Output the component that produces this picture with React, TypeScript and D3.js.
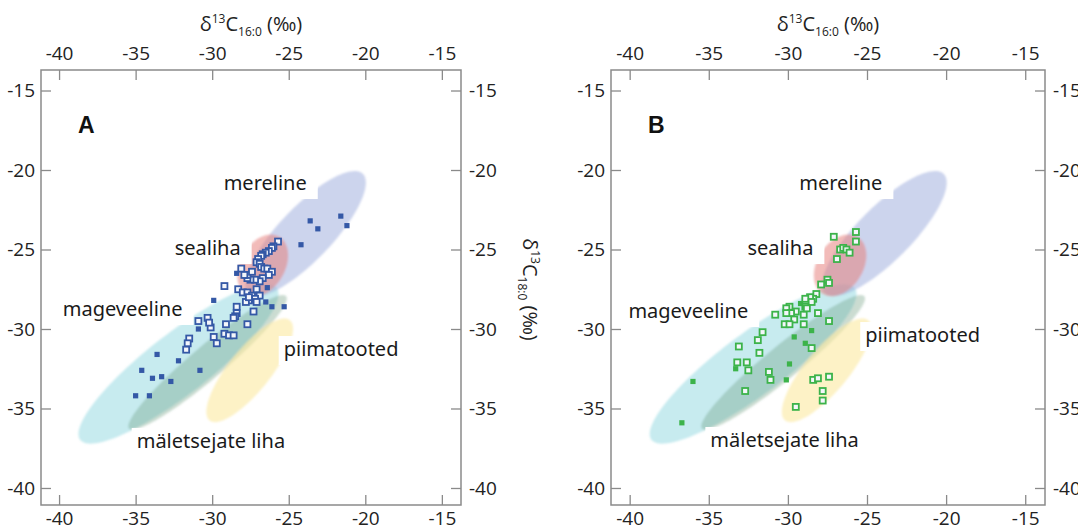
import React, { useRef, useEffect } from 'react';
import * as d3 from 'd3';

const xTicks = [-40, -35, -30, -25, -20, -15];
const yTicks = [-15, -20, -25, -30, -35, -40];

// source ellipses (data units): centre, semi-axes, angle in degrees
const ellipseNames = ['mageveeline', 'mäletsejate liha', 'piimatooted', 'mereline', 'sealiha'];
const ellipseCx = [-32.2, -30.3, -27.55, -23.9, -26.7];
const ellipseCy = [-32.2, -32.1, -32.6, -24.0, -26.0];
const ellipseA = [8.0, 6.6, 4.1, 5.3, 2.1];
const ellipseB = [1.95, 1.05, 1.35, 1.7, 1.45];
const ellipseAngle = [36.5, 39, 50, 45, 58];
const ellipseFill = ['#8fd8e0', '#6b9a7a', '#fbe9a0', '#9aa9dc', '#e8847f'];
const ellipseOpacity = [0.5, 0.35, 0.6, 0.5, 0.55];

// panel A samples (blue)
const aFilled = [
  [-23.6, -23.2], [-23.1, -23.7], [-21.6, -22.9], [-21.2, -23.5], [-24.2, -24.7],
  [-28.4, -26.5], [-29.9, -28.2], [-26.4, -27.4], [-26.5, -28.3], [-26.1, -28.6],
  [-25.3, -28.6], [-30.9, -30.0], [-33.6, -31.6], [-32.2, -32.0], [-30.8, -32.6],
  [-34.6, -32.6], [-33.9, -33.1], [-33.3, -33.0], [-32.7, -33.3], [-35.0, -34.2],
  [-34.1, -34.2]
];
const aHollow = [
  [-25.7, -24.5], [-26.0, -24.8], [-26.1, -24.9], [-26.3, -25.1], [-26.5, -25.2],
  [-26.7, -25.3], [-26.8, -25.4], [-27.0, -25.6], [-27.1, -25.8], [-26.9, -25.9],
  [-26.8, -26.1], [-26.6, -26.2], [-26.4, -26.2], [-26.1, -26.4], [-26.3, -26.6],
  [-26.7, -26.8], [-26.9, -27.0], [-27.2, -26.9], [-27.5, -26.9], [-27.7, -26.8],
  [-27.7, -26.6], [-27.4, -26.4], [-28.1, -26.2], [-27.9, -26.6], [-29.2, -27.3],
  [-28.3, -27.5], [-28.0, -27.7], [-27.7, -27.7], [-27.4, -27.9], [-27.1, -27.5],
  [-26.9, -27.9], [-27.2, -28.1], [-27.6, -28.2], [-27.8, -28.3], [-27.6, -28.0],
  [-27.1, -28.3], [-28.4, -28.6], [-28.4, -29.0], [-28.5, -29.2], [-28.6, -29.3],
  [-27.3, -28.9], [-27.7, -29.7], [-29.1, -29.7], [-29.2, -30.3], [-28.9, -30.4],
  [-28.6, -30.4], [-29.9, -30.5], [-29.7, -30.9], [-30.1, -29.9], [-30.3, -29.3],
  [-30.2, -29.6], [-30.9, -29.5], [-31.5, -30.6], [-31.6, -30.9], [-31.7, -31.3]
];

// panel B samples (green)
const bFilled = [
  [-29.2, -28.4], [-29.6, -30.5], [-28.5, -30.1], [-28.9, -30.9], [-29.9, -32.2],
  [-33.3, -32.5], [-30.1, -33.2], [-36.0, -33.3], [-36.7, -35.9]
];
const bHollow = [
  [-27.1, -24.2], [-25.7, -23.9], [-25.7, -24.5], [-26.7, -25.0], [-26.5, -24.9],
  [-26.3, -25.0], [-26.1, -25.2], [-26.9, -25.6], [-27.5, -26.9], [-27.4, -27.1],
  [-27.9, -27.2], [-28.2, -27.8], [-28.4, -28.1], [-28.6, -28.0], [-28.9, -28.1],
  [-28.5, -28.3], [-28.9, -28.6], [-29.9, -28.6], [-30.1, -28.7], [-29.5, -28.9],
  [-29.8, -29.0], [-30.1, -29.0], [-29.0, -29.1], [-28.8, -28.7], [-29.6, -29.4],
  [-30.2, -29.7], [-29.9, -29.7], [-29.0, -29.7], [-30.8, -29.1], [-28.1, -29.0],
  [-27.4, -29.5], [-31.6, -30.2], [-31.9, -30.7], [-33.1, -31.1], [-31.8, -31.5],
  [-33.2, -32.1], [-32.6, -32.1], [-32.5, -32.6], [-31.2, -32.7], [-31.1, -33.2],
  [-28.4, -33.2], [-28.1, -33.1], [-27.4, -33.0], [-32.7, -33.9], [-27.8, -33.9],
  [-27.8, -34.5], [-29.5, -34.9], [-28.5, -31.2]
];

// label anchors (data units) per panel
const labelNames = ['mereline', 'sealiha', 'mageveeline', 'piimatooted', 'mäletsejate liha'];
const aLabelPos = [[-29.25, -21.26], [-32.45, -25.35], [-39.76, -29.18], [-25.33, -31.7], [-34.93, -37.48]];
const bLabelPos = [[-29.28, -21.26], [-32.56, -25.35], [-40.08, -29.31], [-25.11, -30.82], [-34.9, -37.42]];

const panels = [
  { letter: 'A', left: 41, right: 461, colour: '#3458a6', filled: aFilled, hollow: aHollow, labels: aLabelPos, rightTitle: true },
  { letter: 'B', left: 611, right: 1045, colour: '#3cb34a', filled: bFilled, hollow: bHollow, labels: bLabelPos, rightTitle: false }
];

const axisFont = '"Open Sans", sans-serif';
const labelFont = '"Noto Sans", sans-serif';

const App = () => {
  const svgRef = useRef<SVGSVGElement>(null);

  useEffect(() => {
    const svg = d3.select(svgRef.current);
    svg.selectAll('*').remove();

    svg.append('defs')
      .append('filter')
      .attr('id', 'soft')
      .attr('x', '-20%').attr('y', '-20%').attr('width', '140%').attr('height', '140%')
      .append('feGaussianBlur')
      .attr('stdDeviation', 1.3);

    const top = 70;
    const bottom = 505;
    const y = d3.scaleLinear().domain([-41.07, -13.71]).range([bottom, top]);

    panels.forEach(p => {
      const x = d3.scaleLinear().domain([-41.18, -13.75]).range([p.left, p.right]);
      const g = svg.append('g');

      // ellipses
      const line = d3.line<[number, number]>()
        .x(d => x(d[0]))
        .y(d => y(d[1]))
        .curve(d3.curveLinearClosed);
      const eg = g.append('g').attr('filter', 'url(#soft)');
      ellipseNames.forEach((name, i) => {
        const th = (ellipseAngle[i] * Math.PI) / 180;
        const pts = d3.range(120).map(k => {
          const t = (k / 120) * 2 * Math.PI;
          const ex = ellipseA[i] * Math.cos(t);
          const ey = ellipseB[i] * Math.sin(t);
          return [
            ellipseCx[i] + ex * Math.cos(th) - ey * Math.sin(th),
            ellipseCy[i] + ex * Math.sin(th) + ey * Math.cos(th)
          ] as [number, number];
        });
        eg.append('path')
          .attr('class', 'ellipse ' + name)
          .attr('d', line(pts))
          .attr('fill', ellipseFill[i])
          .attr('fill-opacity', ellipseOpacity[i]);
      });

      // samples
      g.selectAll('.filled')
        .data(p.filled)
        .join('rect')
        .attr('class', 'filled')
        .attr('x', d => x(d[0]) - 2.6)
        .attr('y', d => y(d[1]) - 2.6)
        .attr('width', 5.2)
        .attr('height', 5.2)
        .attr('fill', p.colour);

      g.selectAll('.hollow')
        .data(p.hollow)
        .join('rect')
        .attr('class', 'hollow')
        .attr('x', d => x(d[0]) - 3)
        .attr('y', d => y(d[1]) - 3)
        .attr('width', 6)
        .attr('height', 6)
        .attr('fill', '#f4f6fb')
        .attr('stroke', p.colour)
        .attr('stroke-width', 1.8);

      // category labels on white patches
      labelNames.forEach((name, i) => {
        const lg = g.append('g');
        const box = lg.append('rect').attr('fill', '#fff');
        const t = lg.append('text')
          .attr('x', x(p.labels[i][0]))
          .attr('y', y(p.labels[i][1]))
          .attr('font-family', labelFont)
          .attr('font-size', 20)
          .attr('fill', '#1a1a1a')
          .text(name);
        const bb = (t.node() as SVGTextElement).getBBox();
        box.attr('x', bb.x - 5)
          .attr('y', bb.y + 1)
          .attr('width', bb.width + 16)
          .attr('height', bb.height + 2);
      });

      // frame
      g.append('rect')
        .attr('x', p.left)
        .attr('y', top)
        .attr('width', p.right - p.left)
        .attr('height', bottom - top)
        .attr('fill', 'none')
        .attr('stroke', '#8a8a8a')
        .attr('stroke-width', 1.5);

      const fmt = (d: number) => String(d);
      const styleAxis = (sel: any) => {
        sel.select('.domain').remove();
        sel.selectAll('line').attr('stroke', '#8a8a8a').attr('stroke-width', 1.3);
        sel.selectAll('text')
          .attr('fill', '#222')
          .style('font-family', axisFont)
          .style('font-size', '19px');
      };

      g.append('g').attr('transform', `translate(0,${top})`)
        .call(d3.axisTop(x).tickValues(xTicks).tickFormat(fmt as any).tickSize(-10).tickPadding(10))
        .call(styleAxis);
      g.append('g').attr('transform', `translate(0,${bottom})`)
        .call(d3.axisBottom(x).tickValues(xTicks).tickFormat(fmt as any).tickSize(-10).tickPadding(7))
        .call(styleAxis);
      g.append('g').attr('transform', `translate(${p.left},0)`)
        .call(d3.axisLeft(y).tickValues(yTicks).tickFormat(fmt as any).tickSize(-10).tickPadding(6))
        .call(styleAxis);
      g.append('g').attr('transform', `translate(${p.right},0)`)
        .call(d3.axisRight(y).tickValues(yTicks).tickFormat(fmt as any).tickSize(-10).tickPadding(8))
        .call(styleAxis);

      // top axis title
      const cx = (p.left + p.right) / 2;
      const tt = g.append('text')
        .attr('x', cx)
        .attr('y', 31)
        .attr('text-anchor', 'middle')
        .attr('font-family', axisFont)
        .attr('font-size', 20)
        .attr('fill', '#222');
      tt.append('tspan').text('δ');
      tt.append('tspan').attr('font-size', 12).attr('dy', -8).text('13');
      tt.append('tspan').attr('dy', 8).text('C');
      tt.append('tspan').attr('font-size', 12).attr('dy', 5).text('16:0');
      tt.append('tspan').attr('dy', -5).text(' (‰)');

      if (p.rightTitle) {
        const rx = p.right + 62;
        const ry = (top + bottom) / 2 + 2;
        const rt = g.append('text')
          .attr('x', rx)
          .attr('y', ry)
          .attr('transform', `rotate(90,${rx},${ry})`)
          .attr('text-anchor', 'middle')
          .attr('font-family', axisFont)
          .attr('font-size', 20)
          .attr('fill', '#222');
        rt.append('tspan').text('δ');
        rt.append('tspan').attr('font-size', 12).attr('dy', -8).text('13');
        rt.append('tspan').attr('dy', 8).text('C');
        rt.append('tspan').attr('font-size', 12).attr('dy', 5).text('18:0');
        rt.append('tspan').attr('dy', -5).text(' (‰)');
      }

      // panel letter
      g.append('text')
        .attr('x', p.left + 37)
        .attr('y', top + 63)
        .attr('font-family', '"Liberation Sans", Arial, sans-serif')
        .attr('font-weight', 'bold')
        .attr('font-size', 23)
        .attr('fill', '#111')
        .text(p.letter);
    });
  }, []);

  return (
    <svg
      ref={svgRef}
      width={1078}
      height={529}
      style={{ position: 'absolute', left: 0, top: 0, background: '#fff', display: 'block' }}
    />
  );
};

export default App;
